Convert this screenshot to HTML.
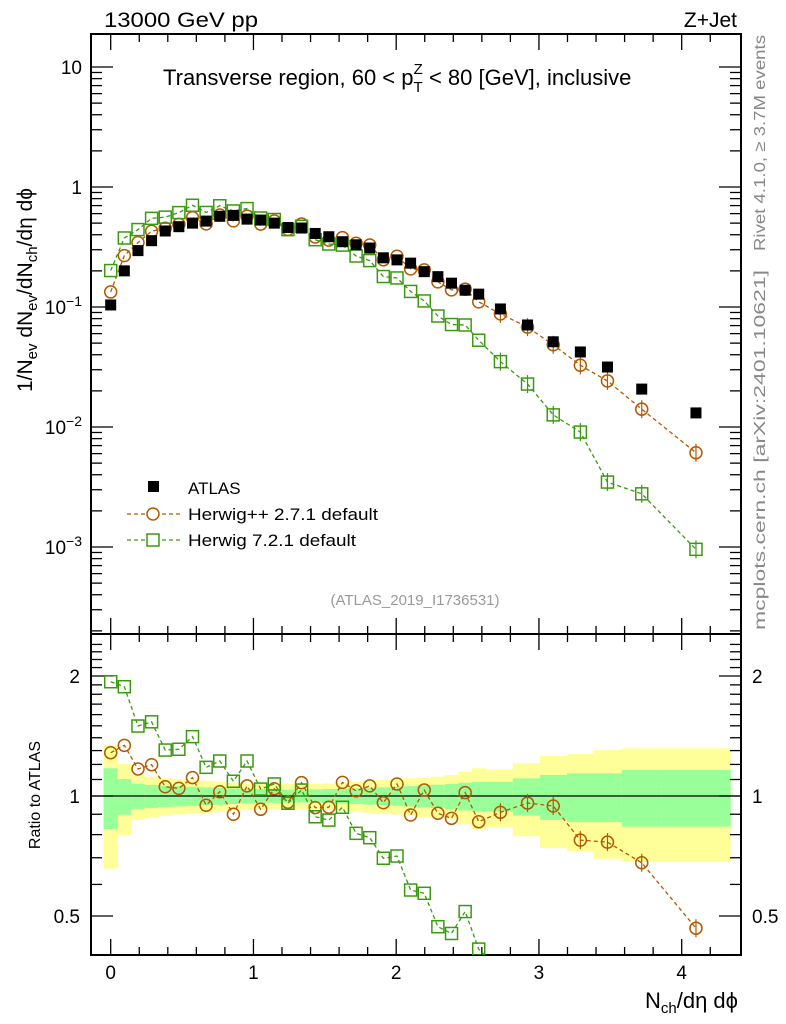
<!DOCTYPE html>
<html><head><meta charset="utf-8"><style>
html,body{margin:0;background:#fff;overflow:hidden;width:786px;height:1024px}
svg{display:block;font-family:"Liberation Sans",sans-serif}
</style></head><body>
<svg id="chart" width="786" height="1024" viewBox="0 0 786 1024" xmlns="http://www.w3.org/2000/svg">
<g id="bands"></g>
<g id="axes"></g>
<g id="marks"></g>
<text x="104" y="27" font-size="21" textLength="154" lengthAdjust="spacingAndGlyphs">13000 GeV pp</text>
<text x="737" y="27" font-size="21" text-anchor="end">Z+Jet</text>
<text x="163" y="85" font-size="22">Transverse region, 60 &lt; p<tspan font-size="15" dy="7">T</tspan><tspan font-size="15" dx="-9" dy="-18">Z</tspan><tspan dy="11"> &lt; 80 [GeV], inclusive</tspan></text>
<text transform="translate(32,290) rotate(-90)" font-size="21" text-anchor="middle">1/N<tspan font-size="15" dy="5">ev</tspan><tspan dy="-5"> dN</tspan><tspan font-size="15" dy="5">ev</tspan><tspan dy="-5">/dN</tspan><tspan font-size="15" dy="5">ch</tspan><tspan dy="-5">/dη dϕ</tspan></text>
<text transform="translate(40,795) rotate(-90)" font-size="16" text-anchor="middle">Ratio to ATLAS</text>
<text x="738" y="1008" font-size="22" text-anchor="end">N<tspan font-size="15" dy="5">ch</tspan><tspan dy="-5">/dη dϕ</tspan></text>
<text transform="translate(765,143) rotate(-90)" font-size="16" fill="#888" text-anchor="middle" textLength="216" lengthAdjust="spacingAndGlyphs">Rivet 4.1.0, ≥ 3.7M events</text>
<text transform="translate(765,450) rotate(-90)" font-size="16" fill="#888" text-anchor="middle" textLength="360" lengthAdjust="spacingAndGlyphs">mcplots.cern.ch [arXiv:2401.10621]</text>
<text x="415" y="605" font-size="15" fill="#999" text-anchor="middle">(ATLAS_2019_I1736531)</text>
<g>
<rect x="148" y="481" width="11" height="11" fill="#000"/>
<text x="188" y="494" font-size="17">ATLAS</text>
<line x1="127" y1="514" x2="180" y2="514" stroke="#b35900" stroke-width="1.3" stroke-dasharray="4,3"/>
<circle cx="153" cy="514" r="6" fill="#fff" stroke="#b35900" stroke-width="1.5"/>
<text x="188" y="520" font-size="17" textLength="190" lengthAdjust="spacingAndGlyphs">Herwig++ 2.7.1 default</text>
<line x1="127" y1="540" x2="180" y2="540" stroke="#3a9a0e" stroke-width="1.3" stroke-dasharray="4,3"/>
<rect x="147" y="534" width="12" height="12" fill="#fff" stroke="#3a9a0e" stroke-width="1.5"/>
<text x="188" y="546" font-size="17" textLength="168" lengthAdjust="spacingAndGlyphs">Herwig 7.2.1 default</text>
</g>
</svg>
<script>
// ---- data ----
const xVals = [0,0.0955,0.191,0.2865,0.382,0.4775,0.573,0.6685,0.764,0.8595,0.955,1.0505,1.146,1.2415,1.337,1.4325,1.528,1.6235,1.719,1.8145,1.91,2.0055,2.101,2.1965,2.292,2.3875,2.483,2.578,2.73,2.92,3.10,3.29,3.48,3.72,4.10];
const binLo = [-0.05,0.048,0.143,0.239,0.334,0.43,0.525,0.621,0.716,0.812,0.907,1.003,1.098,1.194,1.289,1.385,1.48,1.576,1.671,1.767,1.862,1.958,2.053,2.149,2.244,2.34,2.435,2.531,2.626,2.817,3.007,3.196,3.385,3.58,3.86];
const binHi = [0.048,0.143,0.239,0.334,0.43,0.525,0.621,0.716,0.812,0.907,1.003,1.098,1.194,1.289,1.385,1.48,1.576,1.671,1.767,1.862,1.958,2.053,2.149,2.244,2.34,2.435,2.531,2.626,2.817,3.007,3.196,3.385,3.58,3.86,4.34];
const atlas = [0.104,0.200,0.295,0.357,0.430,0.467,0.500,0.520,0.570,0.580,0.540,0.530,0.500,0.460,0.455,0.410,0.385,0.350,0.330,0.310,0.257,0.247,0.232,0.197,0.179,0.158,0.138,0.128,0.0963,0.0708,0.0513,0.0422,0.0316,0.0207,0.0131];
const ratioHpp = [1.284,1.34,1.169,1.198,1.055,1.045,1.112,0.948,1.025,0.90,1.06,0.926,1.043,0.964,1.08,0.935,0.937,1.082,1.03,1.06,0.962,1.072,0.896,1.035,0.905,0.879,1.02,0.862,0.91,0.96,0.944,0.775,0.766,0.68,0.466];
const ratioH7 = [1.935,1.88,1.498,1.535,1.304,1.31,1.409,1.18,1.224,1.089,1.224,1.041,1.072,0.959,1.035,0.887,0.87,0.937,0.806,0.786,0.698,0.707,0.581,0.57,0.47,0.452,0.513,0.413,0.364,0.322,0.246,0.215,0.11,0.134,0.073];
const errTot = [0.343,0.203,0.129,0.118,0.108,0.101,0.097,0.093,0.086,0.080,0.076,0.076,0.072,0.072,0.072,0.072,0.076,0.080,0.086,0.093,0.097,0.101,0.108,0.114,0.118,0.129,0.151,0.174,0.167,0.208,0.26,0.274,0.304,0.317,0.317];
const errStat = [0.174,0.103,0.072,0.066,0.061,0.059,0.055,0.051,0.049,0.045,0.043,0.041,0.039,0.037,0.037,0.039,0.041,0.043,0.045,0.049,0.051,0.055,0.059,0.063,0.067,0.072,0.080,0.086,0.086,0.107,0.129,0.14,0.14,0.162,0.162];
const mainTicks = [0.001,0.01,0.1,1,10];
const mainTickLabels = ["10⁻³","10⁻²","10⁻¹","1","10"];
const ratioTicks = [0.5,1,2];
const ratioTickLabels = ["0.5","1","2"];
const xTicks = [0,1,2,3,4];
const xTickLabels = ["0","1","2","3","4"];

// ---- axes ----
const L=91,R=741,T=34,MB=634,RB=955;
const X = v => 110.7 + v*142.75;
const YM = v => 187 - 120*Math.log10(v);
const YR = v => 796 - 120*Math.log2(v);
const NS="http://www.w3.org/2000/svg";
function mk(tag, attrs, parent){const e=document.createElementNS(NS,tag);for(const k in attrs)e.setAttribute(k,attrs[k]);parent.appendChild(e);return e;}
const axes=document.getElementById('axes'), marks=document.getElementById('marks'), bands=document.getElementById('bands');

for(let i=0;i<xVals.length;i++){
  const y1=mk('rect',{x:X(binLo[i]),width:X(binHi[i])-X(binLo[i])+0.5,y:YR(1+errTot[i]),height:YR(Math.max(1-errTot[i],0.3))-YR(1+errTot[i]),fill:'#ffff99'},bands);
  
  
  const g1=mk('rect',{x:X(binLo[i]),width:X(binHi[i])-X(binLo[i])+0.5,y:YR(1+errStat[i]),height:YR(1-errStat[i])-YR(1+errStat[i]),fill:'#99ff99'},bands);
  
  
}
mk('line',{x1:L,x2:R,y1:YR(1),y2:YR(1),stroke:'#000','stroke-width':1.2},axes);

const f1=mk('rect',{x:L,y:T,width:R-L,height:MB-T,fill:'none',stroke:'#000','stroke-width':2},axes);


const f2=mk('rect',{x:L,y:MB,width:R-L,height:RB-MB,fill:'none',stroke:'#000','stroke-width':2},axes);



for(let v=0;v<=4.3;v+=0.2){
  const major=Math.abs(v-Math.round(v))<1e-6, len=major?16:8, xx=X(v);
  for(const [y0,dir] of [[T,1],[MB,-1],[MB,1],[RB,-1]]) mk('line',{x1:xx,x2:xx,y1:y0,y2:y0+dir*len,stroke:'#000','stroke-width':1.3},axes);
}
xTicks.forEach((v,i)=>{const t=mk('text',{x:X(v),y:979,'font-size':19,'text-anchor':'middle'},axes);t.textContent=xTickLabels[i];

});

for(let d=-4;d<=1;d++){for(let m=1;m<10;m++){const v=m*Math.pow(10,d),y=YM(v);if(y<T||y>MB)continue;const len=m==1?22:11;
  mk('line',{x1:L,x2:L+len,y1:y,y2:y,stroke:'#000','stroke-width':1.3},axes);mk('line',{x1:R,x2:R-len,y1:y,y2:y,stroke:'#000','stroke-width':1.3},axes);}}
mainTicks.forEach((v,i)=>{const t=mk('text',{x:82,y:YM(v)+7,'font-size':19,'text-anchor':'end'},axes);
  const s=mainTickLabels[i];
  if(s.startsWith('10⁻')){t.textContent='10';const sp=mk('tspan',{'font-size':14,dy:-8},t);sp.textContent='−'+({'¹':'1','²':'2','³':'3'})[s.slice(3)];}
  else t.textContent=s;
  
  });

for(let v=0.4;v<=2.5;v+=0.1){const y=YR(v);if(y<MB||y>RB)continue;const maj=[0.5,1,2].some(q=>Math.abs(q-v)<1e-6);const len=maj?22:11;
  mk('line',{x1:L,x2:L+len,y1:y,y2:y,stroke:'#000','stroke-width':1.3},axes);mk('line',{x1:R,x2:R-len,y1:y,y2:y,stroke:'#000','stroke-width':1.3},axes);}
ratioTicks.forEach((v,i)=>{for(const [xx,a] of [[80,'end'],[752,'start']]){const t=mk('text',{x:xx,y:YR(v)+7,'font-size':19,'text-anchor':a},axes);t.textContent=ratioTickLabels[i];
  
  }});

const cl=mk('clipPath',{id:'cr'},marks);mk('rect',{x:L,y:MB,width:R-L,height:RB-MB},cl);
function series(vals,color,shape,Yf,clip,name){
  const g=mk('g',{},marks); if(clip)g.setAttribute('clip-path','url(#cr)');
  
  
  const pts=vals.map((v,i)=>X(xVals[i])+','+Yf(v)).join(' ');
  mk('polyline',{points:pts,fill:'none',stroke:color,'stroke-width':1.3,'stroke-dasharray':'4,3'},g);
  vals.forEach((v,i)=>{const x=X(xVals[i]),y=Yf(v);let m;
    if(shape=='c') m=mk('circle',{cx:x,cy:y,r:6,fill:'none',stroke:color,'stroke-width':1.5},g);
    else m=mk('rect',{x:x-6,y:y-6,width:12,height:12,fill:'none',stroke:color,'stroke-width':1.5},g);
    
    
    if(i>=28){mk('line',{x1:x,x2:x,y1:y-9,y2:y+9,stroke:color,'stroke-width':1.2},g);}});
}
series(ratioHpp.map((r,i)=>r*atlas[i]),'#b35900','c',YM,false,'herwigpp-main-series');
series(ratioH7.map((r,i)=>r*atlas[i]),'#3a9a0e','s',YM,false,'herwig7-main-series');
atlas.forEach((v,i)=>{const r=mk('rect',{x:X(xVals[i])-5.5,y:YM(v)-5.5,width:11,height:11,fill:'#000'},marks);
  
  });
series(ratioHpp,'#b35900','c',YR,true,'herwigpp-ratio-series');
series(ratioH7,'#3a9a0e','s',YR,true,'herwig7-ratio-series');
</script>
</body></html>
